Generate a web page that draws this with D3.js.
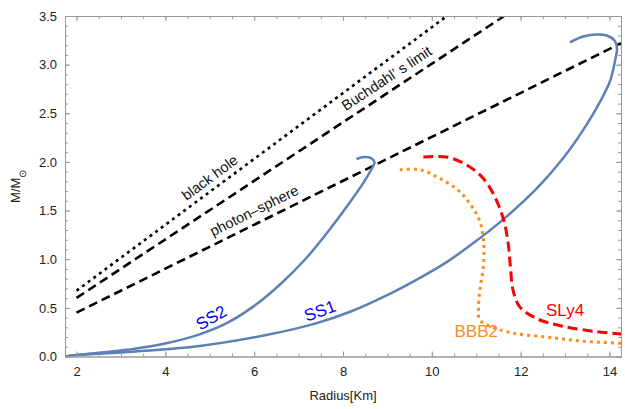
<!DOCTYPE html>
<html>
<head>
<meta charset="utf-8">
<script src="https://cdn.jsdelivr.net/npm/d3@7"></script>
<style>
  body { margin: 0; background: #fff; }
  svg { font-family: "Liberation Sans", Arial, sans-serif; }
</style>
</head>
<body>
<script>
// values: [radius km, M/Msun]
var ss1 = [[1.74,0],[2.0,0.015],[3.27,0.05],[4.77,0.108],[6.27,0.22],[7.39,0.34],[8.22,0.47],
  [8.97,0.625],[9.6,0.775],[10.3,0.96],[10.86,1.14],[11.61,1.41],[12.37,1.73],[12.96,2.04],
  [13.41,2.33],[13.79,2.62],[14.02,2.84],[14.13,3.05],[14.17,3.17],[14.11,3.25],[13.94,3.30],
  [13.72,3.31],[13.41,3.29],[13.11,3.23]];
var ss2 = [[1.74,0],[2.0,0.015],[3.27,0.077],[4.02,0.136],[4.77,0.228],[5.37,0.34],[5.97,0.51],
  [6.57,0.735],[7.17,1.01],[7.69,1.30],[8.14,1.575],[8.48,1.80],[8.67,1.95],[8.71,2.00],
  [8.63,2.04],[8.48,2.05],[8.30,2.03]];
var sly4 = [[9.81,2.05],[10.33,2.05],[10.78,1.97],[11.16,1.83],[11.42,1.64],[11.62,1.40],
  [11.72,1.16],[11.77,0.92],[11.83,0.68],[11.98,0.51],[12.36,0.39],[12.96,0.31],[13.71,0.255],[14.3,0.23]];
var bbb2 = [[9.28,1.92],[9.73,1.92],[10.18,1.83],[10.59,1.71],[10.86,1.57],[11.08,1.39],
  [11.17,1.16],[11.16,0.92],[11.08,0.68],[11.05,0.48],[11.08,0.375],[11.31,0.31],[11.83,0.24],
  [12.59,0.20],[13.34,0.16],[14.3,0.135]];
var blackHole = [[2,0.677],[10.34,3.5]];
var buchdahl = [[2,0.602],[11.63,3.5]];
var photon = [[2,0.451],[14.26,3.22]];

var xTicks = [2,4,6,8,10,12,14];
var yTicks = [0,0.5,1,1.5,2,2.5,3,3.5];

var width = 625, height = 409;
var margin = {left: 65, right: 4, top: 16, bottom: 52.5};

var svg = d3.select('body').append('svg')
  .attr('width', width)
  .attr('height', height);

var x = d3.scaleLinear().domain([1.74, 14.26]).range([margin.left, width - margin.right]);
var y = d3.scaleLinear().domain([0, 3.5]).range([height - margin.bottom, margin.top]);

svg.append('clipPath').attr('id', 'clip')
  .append('rect')
  .attr('x', x.range()[0]).attr('y', y.range()[1])
  .attr('width', x.range()[1] - x.range()[0])
  .attr('height', y.range()[0] - y.range()[1]);

var plot = svg.append('g').attr('clip-path', 'url(#clip)');

var line = d3.line()
  .x(function(d) { return x(d[0]); })
  .y(function(d) { return y(d[1]); })
  .curve(d3.curveCatmullRom.alpha(0.5));

function addCurve(data, color, w, dash) {
  plot.append('path')
    .attr('d', line(data))
    .attr('fill', 'none')
    .attr('stroke', color)
    .attr('stroke-width', w)
    .attr('stroke-dasharray', dash);
}

addCurve(blackHole, '#000', 2.6, '3,4');
addCurve(buchdahl, '#000', 2.6, '9,5');
addCurve(photon, '#000', 2.6, '9,5');
addCurve(ss2, '#5e81b5', 2.5, null);
addCurve(ss1, '#5e81b5', 2.5, null);
addCurve(bbb2, '#ff8c1a', 3, '3,4');
addCurve(sly4, '#ff0000', 3, '10,5');

// frame with ticks on all sides
var frameColor = '#999';
var xMinor = d3.range(2, 14.01, 0.5);
var yMinor = d3.range(0, 3.51, 0.1);

function drawAxis(ax, tx, ty) {
  var g = svg.append('g').attr('transform', 'translate(' + tx + ',' + ty + ')').call(ax);
  g.selectAll('.domain').attr('stroke', frameColor);
  g.selectAll('.tick line').attr('stroke', frameColor);
  return g;
}
drawAxis(d3.axisBottom(x).tickValues(xMinor).tickSize(-3).tickFormat(''), 0, y.range()[0]);
drawAxis(d3.axisTop(x).tickValues(xMinor).tickSize(-3).tickFormat(''), 0, y.range()[1]);
drawAxis(d3.axisLeft(y).tickValues(yMinor).tickSize(-3).tickFormat(''), x.range()[0], 0);
drawAxis(d3.axisRight(y).tickValues(yMinor).tickSize(-3).tickFormat(''), x.range()[1], 0);

// major ticks with labels
var bMaj = drawAxis(d3.axisBottom(x).tickValues(xTicks).tickSize(-5).tickPadding(10).tickFormat(d3.format('d')), 0, y.range()[0]);
drawAxis(d3.axisTop(x).tickValues(xTicks).tickSize(-5).tickFormat(''), 0, y.range()[1]);
var lMaj = drawAxis(d3.axisLeft(y).tickValues(yTicks).tickSize(-5).tickPadding(8).tickFormat(d3.format('.1f')), x.range()[0], 0);
drawAxis(d3.axisRight(y).tickValues(yTicks).tickSize(-5).tickFormat(''), x.range()[1], 0);

[bMaj, lMaj].forEach(function(g) {
  g.selectAll('.tick text')
    .attr('fill', '#222')
    .style('font-size', '13px')
    .style('font-family', '"Liberation Sans", Arial, sans-serif');
});

// axis titles
svg.append('text')
  .attr('x', (x.range()[0] + x.range()[1]) / 2)
  .attr('y', 400)
  .attr('text-anchor', 'middle')
  .attr('fill', '#222')
  .style('font-size', '13px')
  .text('Radius[Km]');

var yl = svg.append('text')
  .attr('transform', 'translate(20,' + ((y.range()[0] + y.range()[1]) / 2) + ') rotate(-90)')
  .attr('text-anchor', 'middle')
  .attr('fill', '#222')
  .style('font-size', '13px');
yl.append('tspan').text('M/M');
yl.append('tspan').attr('baseline-shift', 'sub').style('font-size', '10px').text('\u2299');

// annotations
function lineAngle(d) {
  var dx = x(d[1][0]) - x(d[0][0]), dy = y(d[1][1]) - y(d[0][1]);
  return Math.atan2(dy, dx) * 180 / Math.PI;
}
var lineLabels = [
  {text: 'black hole', at: [5.0, 1.84], ang: lineAngle(blackHole)},
  {text: 'Buchdahl\u2019 s limit', at: [8.98, 2.86], ang: lineAngle(buchdahl)},
  {text: 'photon\u2013sphere', at: [6.0, 1.50], ang: lineAngle(photon)}
];
lineLabels.forEach(function(l) {
  svg.append('text')
    .attr('transform', 'translate(' + x(l.at[0]) + ',' + y(l.at[1]) + ') rotate(' + l.ang + ')')
    .attr('text-anchor', 'middle')
    .attr('dy', '0.35em')
    .attr('fill', '#111')
    .style('font-size', '14.5px')
    .text(l.text);
});

var curveLabels = [
  {text: 'SS2', at: [5.03, 0.40], ang: -30, color: '#0000ff'},
  {text: 'SS1', at: [7.48, 0.47], ang: -20, color: '#0000ff'},
  {text: 'SLy4', at: [13.0, 0.48], ang: 0, color: '#ff0000'},
  {text: 'BBB2', at: [11.0, 0.26], ang: 0, color: '#ff8c1a'}
];
curveLabels.forEach(function(l) {
  svg.append('text')
    .attr('transform', 'translate(' + x(l.at[0]) + ',' + y(l.at[1]) + ') rotate(' + l.ang + ')')
    .attr('text-anchor', 'middle')
    .attr('dy', '0.35em')
    .attr('fill', l.color)
    .style('font-size', '17px')
    .text(l.text);
});
</script>
</body>
</html>
